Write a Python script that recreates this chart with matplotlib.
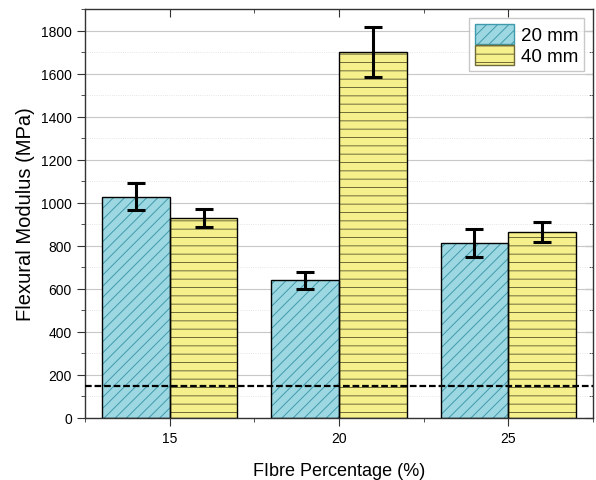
import matplotlib
matplotlib.use("Agg")
import matplotlib.pyplot as plt
from matplotlib.ticker import MultipleLocator
from matplotlib.patches import Patch
import numpy as np

plt.rcParams['font.family'] = ['Liberation Sans', 'DejaVu Sans']
plt.rcParams['hatch.linewidth'] = 0.7

categories = [15, 20, 25]
mod_20mm = [1028, 640, 815]
err_20mm = [62, 40, 65]
mod_40mm = [928, 1700, 865]
err_40mm = [42, 115, 46]
ref_line = 150
series_labels = ['20 mm', '40 mm']

fig = plt.figure(figsize=(5.96, 4.81), dpi=100)
ax = fig.add_axes([0.1426, 0.129, 0.8524, 0.85])

x = np.array(categories, dtype=float)
w = 2.0
blue = '#9dd8e2'
blue_h = '#3f9aab'
yellow = '#f5ef8c'
yellow_h = '#6e6a3a'

ax.set_axisbelow(True)
ax.grid(which='major', axis='y', color='#c8c8c8', lw=0.8)
ax.grid(which='minor', axis='y', color='#dddddd', lw=0.6, ls=':')

ax.bar(x - w/2, mod_20mm, w, color=blue, edgecolor=blue_h, hatch='///', lw=0, zorder=2)
ax.bar(x - w/2, mod_20mm, w, fill=False, edgecolor='black', lw=1.0, zorder=3)
ax.bar(x + w/2, mod_40mm, w, color=yellow, edgecolor=yellow_h, hatch='--', lw=0, zorder=2)
ax.bar(x + w/2, mod_40mm, w, fill=False, edgecolor='black', lw=1.0, zorder=3)

ax.errorbar(x - w/2, mod_20mm, yerr=err_20mm, fmt='none', ecolor='black',
            elinewidth=2.2, capsize=6.5, capthick=2.2, zorder=4)
ax.errorbar(x + w/2, mod_40mm, yerr=err_40mm, fmt='none', ecolor='black',
            elinewidth=2.2, capsize=6.5, capthick=2.2, zorder=4)

ax.axhline(ref_line, color='black', ls=(0, (3, 1.3)), lw=1.6, zorder=5)

ax.set_xlim(12.5, 27.5)
ax.set_ylim(0, 1900)
ax.set_xticks(categories)
ax.xaxis.set_minor_locator(MultipleLocator(2.5))
ax.yaxis.set_major_locator(MultipleLocator(200))
ax.yaxis.set_minor_locator(MultipleLocator(100))
ax.tick_params(which='both', direction='out', labelsize=10, color='#333333',
               top=False, right=False)
ax.tick_params(which='major', length=6)
ax.tick_params(which='minor', length=3)

# top and right ticks pointing inward
secx = ax.secondary_xaxis('top')
secx.set_xticks(categories)
secx.xaxis.set_minor_locator(MultipleLocator(2.5))
secx.tick_params(which='both', direction='in', labeltop=False, color='#333333')
secx.tick_params(which='major', length=6)
secx.tick_params(which='minor', length=3)
secy = ax.secondary_yaxis('right')
secy.yaxis.set_major_locator(MultipleLocator(200))
secy.yaxis.set_minor_locator(MultipleLocator(100))
secy.tick_params(which='both', direction='in', labelright=False, color='#333333')
secy.tick_params(which='major', length=6)
secy.tick_params(which='minor', length=3)
for sa in (secx, secy):
    for s in sa.spines.values():
        s.set_visible(False)

ax.set_xlabel('FIbre Percentage (%)', fontsize=13, labelpad=12)
ax.set_ylabel('Flexural Modulus (MPa)', fontsize=14.5, labelpad=4)
for s in ax.spines.values():
    s.set_color('#333333')
    s.set_linewidth(1.0)

handles = [Patch(facecolor=blue, edgecolor=blue_h, hatch='///'),
           Patch(facecolor=yellow, edgecolor=yellow_h, hatch='--')]
leg = ax.legend(handles, series_labels, loc='upper right', fontsize=13.5,
                frameon=True, fancybox=False, edgecolor='#bbbbbb',
                handlelength=2.1, handleheight=1.25, labelspacing=0.05,
                borderpad=0.3, handletextpad=0.35, borderaxespad=0.5)
leg.get_frame().set_linewidth(1.0)

fig.savefig('out.png', dpi=100)
